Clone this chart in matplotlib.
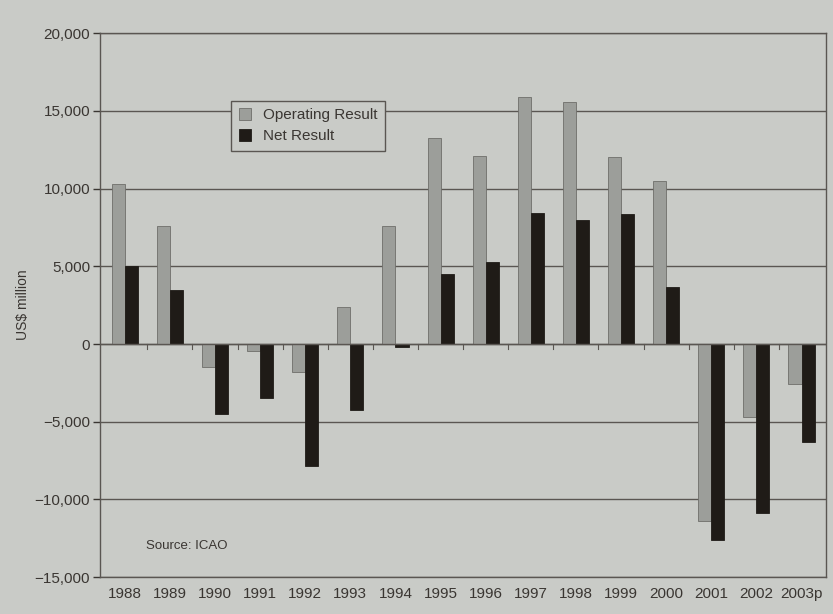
import numpy as np
import matplotlib as mpl
mpl.use('Agg')
import matplotlib.pyplot as plt
from matplotlib import ticker

plt.rcParams['font.family'] = ['Liberation Sans', 'DejaVu Sans']

# data, US$ million
years = ['1988', '1989', '1990', '1991', '1992', '1993', '1994', '1995',
         '1996', '1997', '1998', '1999', '2000', '2001', '2002', '2003p']
operating = [10300, 7600, -1500, -450, -1800, 2400, 7600, 13250,
             12100, 15900, 15600, 12000, 10500, -11400, -4700, -2600]
net = [5000, 3500, -4500, -3500, -7850, -4250, -200, 4500,
       5300, 8400, 8000, 8350, 3700, -12600, -10900, -6300]

bg = '#c9cbc7'
ink = '#3a3632'

fig = plt.figure(figsize=(8.33, 6.14), dpi=100, facecolor=bg)
ax = fig.add_axes([0.120, 0.060, 0.872, 0.886], facecolor=bg)

x = np.arange(len(years))
w = 0.29
ax.bar(x - w/2, operating, w, color='#9c9e9a', edgecolor='#6e6e6a', linewidth=0.6,
       label='Operating Result', zorder=3)
ax.bar(x + w/2, net, w, color='#1f1b17', edgecolor='#1f1b17', linewidth=0.6,
       label='Net Result', zorder=3)

ax.set_xlim(-0.55, len(years) - 0.45)
ax.set_ylim(-15000, 20000)
ax.yaxis.set_major_locator(ticker.MultipleLocator(5000))
ax.yaxis.set_major_formatter(ticker.FuncFormatter(
    lambda v, p: '{:,.0f}'.format(v).replace('-', '\u2212')))
ax.grid(axis='y', color='#5a5652', linewidth=1.0, zorder=1)

# zero line with small ticks between categories
ax.axhline(0, color='#5a5652', linewidth=1.0, zorder=4)
for b in np.arange(len(years) - 1) + 0.5:
    ax.plot([b, b], [0, -350], color='#5a5652', linewidth=0.8, zorder=4)

ax.set_xticks(x)
ax.set_xticklabels(years)
ax.tick_params(axis='x', length=0, pad=7, labelsize=11, colors=ink)
ax.tick_params(axis='y', length=5, width=1, labelsize=11, colors=ink, pad=2)

for s in ax.spines.values():
    s.set_color('#5a5652')
    s.set_linewidth(1.0)

ax.set_ylabel('US$ million', fontsize=10, color=ink)
ax.yaxis.set_label_coords(-0.097, 0.5)

leg = ax.legend(loc='upper left', bbox_to_anchor=(0.17, 0.89), fontsize=11,
                frameon=True, fancybox=False, edgecolor='#5a5652', facecolor=bg,
                framealpha=1, handlelength=0.8, handleheight=0.8,
                borderpad=0.5, labelspacing=0.45)
for t in leg.get_texts():
    t.set_color(ink)

ax.text(0.063, 0.052, 'Source: ICAO', transform=ax.transAxes, fontsize=9.5,
        color=ink)

fig.savefig('out.png', dpi=100, facecolor=bg)
